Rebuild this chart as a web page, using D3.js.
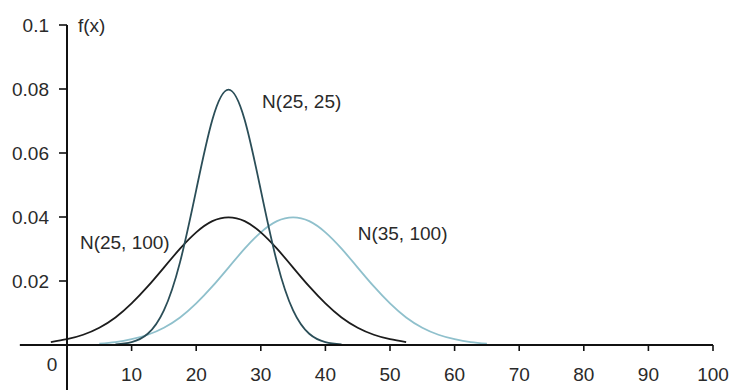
<!DOCTYPE html>
<html>
<head>
<meta charset="utf-8">
<script src="https://cdn.jsdelivr.net/npm/d3@7"></script>
<style>
  body { margin: 0; background: #fff; }
  text { font-family: "Liberation Sans", Arial, sans-serif; fill: #2a2a2a; }
</style>
</head>
<body>
<div id="chart"></div>
<script>
(function(){

    const width = 732;
    const height = 390;

    // tick values
    const xTicks = [10, 20, 30, 40, 50, 60, 70, 80, 90, 100];
    const yTicks = [0.02, 0.04, 0.06, 0.08, 0.1];

    // curve samples (x, f(x))
    const xA = [7.5, 10, 12.5, 15, 17.5, 20, 22.5, 25, 27.5, 30, 32.5, 35, 37.5, 40, 42.5];
    const yA = [0.0002, 0.0009, 0.0035, 0.0108, 0.0259, 0.0484, 0.0704, 0.0798, 0.0704, 0.0484, 0.0259, 0.0108, 0.0035, 0.0009, 0.0002];

    const xB = [-2.5, 0, 2.5, 5, 7.5, 10, 12.5, 15, 17.5, 20, 22.5, 25, 27.5, 30, 32.5, 35, 37.5, 40, 42.5, 45, 47.5, 50, 52.5];
    const yB = [0.0009, 0.0018, 0.0032, 0.0054, 0.0086, 0.0130, 0.0183, 0.0242, 0.0301, 0.0352, 0.0387, 0.0399, 0.0387, 0.0352, 0.0301, 0.0242, 0.0183, 0.0130, 0.0086, 0.0054, 0.0032, 0.0018, 0.0009];

    const xC = [5, 7.5, 10, 12.5, 15, 17.5, 20, 22.5, 25, 27.5, 30, 32.5, 35, 37.5, 40, 42.5, 45, 47.5, 50, 52.5, 55, 57.5, 60, 62.5, 65];
    const yC = [0.0004, 0.0009, 0.0018, 0.0032, 0.0054, 0.0086, 0.0130, 0.0183, 0.0242, 0.0301, 0.0352, 0.0387, 0.0399, 0.0387, 0.0352, 0.0301, 0.0242, 0.0183, 0.0130, 0.0086, 0.0054, 0.0032, 0.0018, 0.0009, 0.0004];

    const seriesNames = ['N(25, 25)', 'N(25, 100)', 'N(35, 100)'];
    const colors = ['#2b4e58', '#1c1c1c', '#8fc0cc'];
    const labelPos = [[30.2, 0.076], [2.0, 0.0322], [45.0, 0.035]];

    const series = [
        xA.map((x, i) => [x, yA[i]]),
        xB.map((x, i) => [x, yB[i]]),
        xC.map((x, i) => [x, yC[i]])
    ];

    const svg = d3.select("#chart")
        .append("svg")
        .attr("width", width)
        .attr("height", height);

    const x = d3.scaleLinear().domain([0, 100]).range([67, 713]);
    const y = d3.scaleLinear().domain([0, 0.1]).range([345, 25]);

    // curves
    const line = d3.line()
        .x(d => x(d[0]))
        .y(d => y(d[1]))
        .curve(d3.curveNatural);

    // draw light one first so the darker curves sit on top
    [2, 1, 0].forEach(function(i){
        svg.append("path")
            .attr("d", line(series[i]))
            .attr("fill", "none")
            .attr("stroke", colors[i])
            .attr("stroke-width", 1.8);
    });

    // x axis line
    svg.append("line")
        .attr("x1", x(-7.3)).attr("x2", x(100))
        .attr("y1", y(0)).attr("y2", y(0))
        .attr("stroke", "#111").attr("stroke-width", 2);

    svg.selectAll(".xtick")
        .data(xTicks)
        .enter().append("line")
        .attr("x1", d => x(d)).attr("x2", d => x(d))
        .attr("y1", y(0)).attr("y2", y(0) + 6)
        .attr("stroke", "#111").attr("stroke-width", 1.6);

    svg.selectAll(".xlab")
        .data(xTicks)
        .enter().append("text")
        .attr("x", d => x(d))
        .attr("y", 381)
        .attr("text-anchor", "middle")
        .attr("font-size", 19)
        .text(d => d);

    svg.append("text")
        .attr("x", 52).attr("y", 371)
        .attr("text-anchor", "middle")
        .attr("font-size", 19)
        .text("0");

    // y axis line
    svg.append("line")
        .attr("x1", x(0)).attr("x2", x(0))
        .attr("y1", y(0.1)).attr("y2", height)
        .attr("stroke", "#111").attr("stroke-width", 2);

    svg.selectAll(".ytick")
        .data(yTicks)
        .enter().append("line")
        .attr("x1", x(0) - 8).attr("x2", x(0))
        .attr("y1", d => y(d)).attr("y2", d => y(d))
        .attr("stroke", "#111").attr("stroke-width", 1.6);

    svg.selectAll(".ylab")
        .data(yTicks)
        .enter().append("text")
        .attr("x", 49)
        .attr("y", d => y(d))
        .attr("dy", "0.35em")
        .attr("text-anchor", "end")
        .attr("font-size", 19)
        .text(d => d3.format("")(+d.toFixed(2)));

    svg.append("text")
        .attr("x", 78).attr("y", y(0.1))
        .attr("dy", "0.35em")
        .attr("font-size", 19)
        .text("f(x)");

    // series labels
    svg.selectAll(".slab")
        .data(seriesNames)
        .enter().append("text")
        .attr("x", (d, i) => x(labelPos[i][0]))
        .attr("y", (d, i) => y(labelPos[i][1]))
        .attr("dy", "0.35em")
        .attr("font-size", 19)
        .text(d => d);

}());
</script>
</body>
</html>
